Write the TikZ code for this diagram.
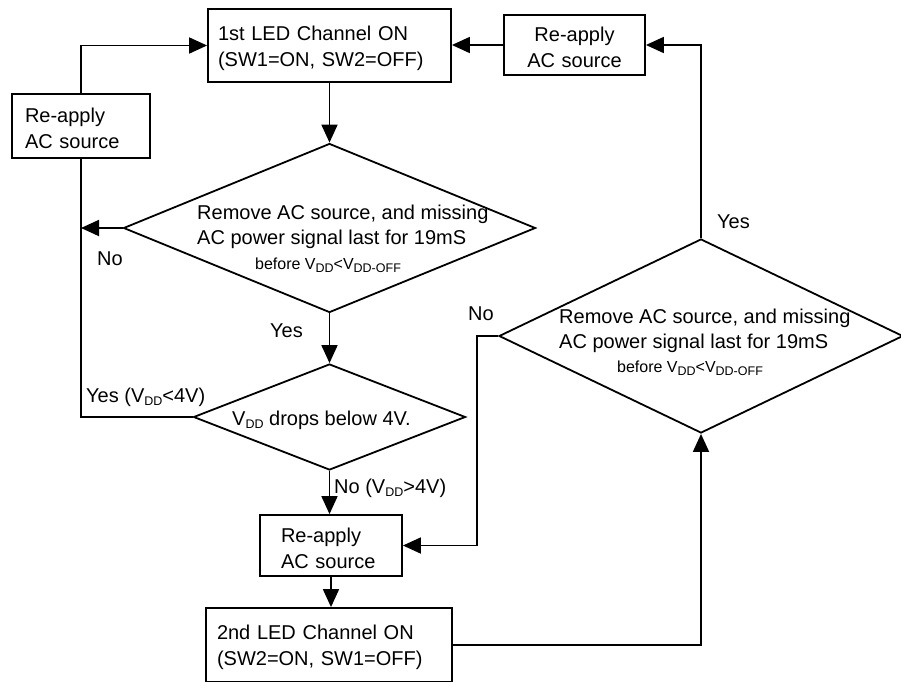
\documentclass[tikz,border=0pt]{standalone}
\usepackage{fontspec}
\setmainfont{Liberation Sans}
\usetikzlibrary{shapes.geometric,arrows.meta}
\newcommand{\mainsz}{\fontsize{20}{26}\selectfont}
\newcommand{\smallsz}{\fontsize{16}{20}\selectfont}
\newcommand{\subs}[1]{\raisebox{-3pt}{\fontsize{12.5}{12.5}\selectfont #1}}
\newcommand{\tallstrut}{\rule{0pt}{20pt}}
\tikzset{
  box/.style={draw, line width=1.8pt, inner ysep=0pt, align=left, font=\mainsz},
  dia/.style={draw, diamond, line width=1.8pt, inner sep=0pt},
  lbl/.style={anchor=base west, inner sep=0pt, font=\mainsz},
  arr/.style={line width=1.8pt, -{Triangle[length=18pt,width=16pt]}},
  ln/.style={line width=1.8pt}
}
\begin{document}
\begin{tikzpicture}[x=1pt,y=-1pt]
\useasboundingbox (0,0) rectangle (901,681);
\clip (0,0) rectangle (901,681);
% boxes
\node[box, minimum width=243pt, minimum height=73pt, text width=223pt, inner xsep=10pt] (box1) at (329.5,45.5) {\tallstrut 1st LED Channel ON\\(SW1=ON, SW2=OFF)};
\node[box, align=center, minimum width=141pt, minimum height=60pt, text width=121pt, inner xsep=10pt] (boxR) at (574.5,45) {\tallstrut Re-apply\\AC source};
\node[box, minimum width=138pt, minimum height=64pt, text width=112pt, inner xsep=13pt] (boxL) at (81,126) {\tallstrut Re-apply\\AC source};
\node[box, minimum width=142pt, minimum height=61pt, text width=100pt, inner xsep=21pt] (box3) at (331,545.5) {\tallstrut Re-apply\\AC source};
\node[box, minimum width=246pt, minimum height=74pt, text width=224pt, inner xsep=11pt] (box4) at (329,645) {\tallstrut 2nd LED Channel ON\\(SW2=ON, SW1=OFF)};
% diamonds
\node[dia, minimum width=412pt, minimum height=169pt] (d1) at (329.5,228) {};
\node[dia, minimum width=404pt, minimum height=194pt] (d2) at (701,336) {};
\node[dia, minimum width=272pt, minimum height=106pt] (d3) at (329.5,417) {};
% diamond texts
\node[lbl] (d1t1) at (197,219) {Remove AC source, and missing};
\node[lbl] (d1t2) at (197,244) {AC power signal last for 19mS};
\node[anchor=base, inner sep=0pt, font=\smallsz] (d1t3) at (328,269) {before V\subs{DD}<V\subs{DD-OFF}};
\node[lbl] (d2t1) at (559,323) {Remove AC source, and missing};
\node[lbl] (d2t2) at (559,348) {AC power signal last for 19mS};
\node[anchor=base, inner sep=0pt, font=\smallsz] (d2t3) at (690,372) {before V\subs{DD}<V\subs{DD-OFF}};
\node[lbl] (d3t) at (232,425) {V\subs{DD} drops below 4V.};
% labels
\node[lbl] (no1) at (97,265) {No};
\node[lbl] (yes1) at (270,337) {Yes};
\node[lbl] (yes3) at (86,402) {Yes (V\subs{DD}<4V)};
\node[lbl] (no3) at (334,493) {No (V\subs{DD}>4V)};
\node[lbl] (no2) at (468,320) {No};
\node[lbl] (yes2) at (717,228) {Yes};
% connectors
\coordinate (nojx) at (477,0);
\draw[arr] (box1.south) -- (d1.north);
\draw[arr] (d1.south) -- (d1.south |- d3.north);
\draw[arr] (d3.south) -- (d3.south |- box3.north);
\draw[arr] (box3.south) -- (box3.south |- box4.north);
\draw[arr] (box4.east) -| (d2.south);
\draw[arr] (d2.north) |- (boxR.east);
\draw[arr] (boxR.west) -- (boxR.west -| box1.east);
\draw[arr] (d2.west) -- (d2.west -| nojx) |- (box3.east);
\draw[arr] (d1.west) -- (d1.west -| boxL.south);
\draw[ln] (d3.west) -| (boxL.south);
\draw[arr] (boxL.north) |- (box1.west);
\end{tikzpicture}
\end{document}
